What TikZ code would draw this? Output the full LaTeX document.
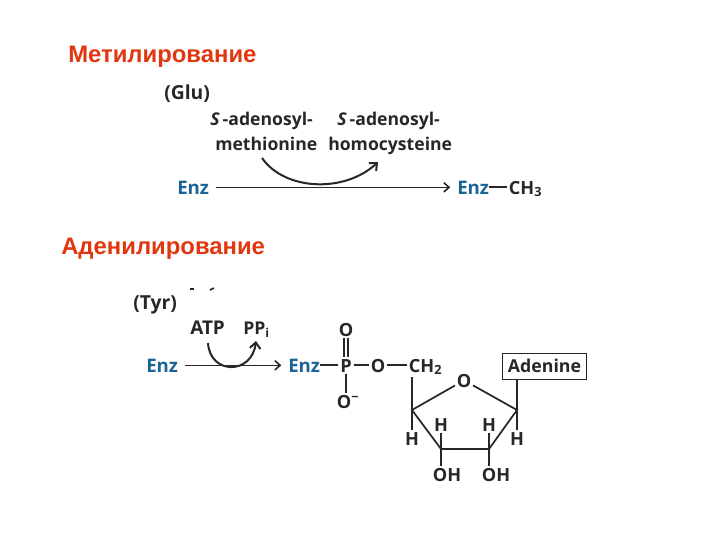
\documentclass[tikz,border=0pt]{standalone}
\usepackage{fontspec}
\setmainfont{Open Sans}
\newfontfamily\headfont{Liberation Sans}
\usetikzlibrary{arrows.meta}

\definecolor{inkdark}{HTML}{2A2626}
\definecolor{enzblue}{HTML}{1B6596}
\definecolor{headred}{HTML}{E2360F}

\tikzset{
    heading/.style={anchor=base west, inner sep=0pt, text=headred, font=\headfont\bfseries\fontsize{17.9}{20}\selectfont},
    label/.style={anchor=base west, inner sep=0pt, text=inkdark, font=\bfseries\fontsize{13.2}{15}\selectfont},
    enz/.style={anchor=base west, inner sep=0pt, text height=10pt, text depth=0pt, text=enzblue, font=\bfseries\fontsize{14}{15}\selectfont},
    atom/.style={anchor=base, inner sep=1.2pt, text height=10pt, text depth=0pt, text=inkdark, font=\bfseries\fontsize{13.6}{15}\selectfont},
    bond/.style={inkdark, line width=1.3pt},
    reaction/.style={inkdark, line width=1.2pt, -{Straight Barb[length=4pt,width=7pt]}},
    cofactor/.style={inkdark, line width=1.5pt, -{Straight Barb[length=4.5pt,width=8pt]}}
}

\begin{document}
\begin{tikzpicture}[x=0.75pt, y=-0.75pt]
    \useasboundingbox (0,0) rectangle (720,540);

    % ==========================================
    % 1. METHYLATION
    % ==========================================
    \node[heading] (hmet) at (68,62) {Метилирование};
    \node[label, font=\bfseries\fontsize{14.5}{15}\selectfont] (glu) at (164,99) {(Glu)};
    \node[label] (sam) at (210,125) {\textit{S}\,-adenosyl-};
    \node[label] (met) at (215,150) {methionine};
    \node[label] (sah) at (337,125) {\textit{S}\,-adenosyl-};
    \node[label] (hcy) at (328,150) {homocysteine};

    \node[enz] (enza) at (177,194) {Enz};
    \node[enz] (enzb) at (457,194) {Enz};
    \node[atom, anchor=base west] (cha) at (507,194) {CH\textsubscript{3}};

    \draw[reaction] ([xshift=5pt]enza.east) -- ([xshift=-5pt]enzb.west);
    \draw[bond] (enzb.east) -- (cha.west);

    % Cofactor arc, tangent to the main arrow
    \coordinate (sout) at (262,158);
    \coordinate (sin) at (378,162);
    \draw[cofactor] (sout) .. controls (285,191) and (345,193) .. (sin);

    % ==========================================
    % 2. ADENYLYLATION
    % ==========================================
    \node[heading] (hade) at (61,254) {Аденилирование};
    \node[label, font=\bfseries\fontsize{14.5}{15}\selectfont] (tyr) at (133,309) {(Tyr)};
    \node[label, font=\bfseries\fontsize{14.2}{15}\selectfont] (atp) at (190,334) {ATP};
    \node[label] (ppi) at (243,334) {PP\textsubscript{i}};

    % Two cut-off marks above the labels
    \draw[inkdark, line width=1.2pt] (190,289) -- (194,289);
    \draw[inkdark, line width=1.2pt] (210,290) -- (214,288);

    \node[enz] (enzc) at (146,372) {Enz};
    \node[enz] (enzd) at (288,372) {Enz};
    \draw[reaction] ([xshift=5pt]enzc.east) -- ([xshift=-5pt]enzd.west);

    \coordinate (aout) at (208,343);
    \coordinate (ain) at (256,341);
    \draw[cofactor] (aout) .. controls (210,375) and (252,375) .. (ain);

    % ==========================================
    % 3. PHOSPHATE CHAIN
    % ==========================================
    \node[atom] (p) at (346,372) {P};
    \node[atom] (otop) at (346,336) {O};
    \node[atom] (obot) at (348,408) {O\textsuperscript{−}};
    \node[atom] (oest) at (378,372) {O};
    \node[atom, anchor=base west] (ch2) at (407,372) {CH\textsubscript{2}};

    \draw[bond] (enzd.east) -- (p.west);
    \draw[bond] (p) -- (oest);
    \draw[bond] (oest) -- (ch2.west);
    \draw[bond] ([xshift=-1.6pt]p.north) -- ([xshift=-1.6pt]otop.south);
    \draw[bond] ([xshift=1.6pt]p.north) -- ([xshift=1.6pt]otop.south);
    \draw[bond] (p.south) -- (346,393);

    % ==========================================
    % 4. RIBOSE RING
    % ==========================================
    \coordinate (cl) at (412,410);
    \coordinate (cr) at (517,410);
    \coordinate (bl) at (441,449);
    \coordinate (br) at (489,449);
    \coordinate (cht) at (412,377);
    \node[atom] (oring) at (464,387) {O};
    \node[draw=inkdark, line width=0.7pt, inner sep=0pt, minimum width=62.5pt, minimum height=19.5pt,
          text=inkdark, font=\bfseries\fontsize{13.3}{15}\selectfont] (ade) at (544.5,366) {Adenine};

    \draw[bond] (oring) -- (cr) -- (br) -- (bl) -- (cl) -- (oring);
    \draw[bond] (cht) -- (cl);
    \draw[bond] (ade.south -| cr) -- (cr);

    \node[atom] (hl) at (412,445) {H};
    \node[atom] (hr) at (517,445) {H};
    \node[atom] (hbl) at (441,431) {H};
    \node[atom] (hbr) at (489,431) {H};
    \node[atom] (ohl) at (447,481) {OH};
    \node[atom] (ohr) at (496,481) {OH};

    \draw[bond] (cl) -- (hl.north);
    \draw[bond] (cr) -- (hr.north);
    \draw[bond] (bl) -- (hbl.south);
    \draw[bond] (br) -- (hbr.south);
    \draw[bond] (bl) -- (bl |- ohl.north);
    \draw[bond] (br) -- (br |- ohr.north);

\end{tikzpicture}
\end{document}
